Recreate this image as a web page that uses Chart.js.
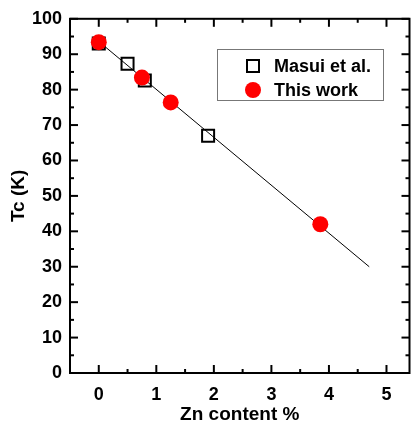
<!DOCTYPE html>
<html>
<head>
<meta charset="utf-8">
<script src="https://cdn.jsdelivr.net/npm/chart.js@4/dist/chart.umd.min.js"></script>
<style>
  html, body { margin: 0; padding: 0; background: #fff; overflow: hidden; }
  #wrap { position: relative; width: 420px; height: 423px; }
  #legend {
    position: absolute; left: 217px; top: 49px; width: 165px; height: 50px;
    border: 1px solid #777; background: #fff;
    font: bold 18px "Liberation Sans", Arial, sans-serif; color: #000;
  }
  #legend .item { position: absolute; left: 0; height: 24px; line-height: 24px; white-space: nowrap; }
  #legend .mark { position: absolute; left: 27px; top: 4px; width: 16px; height: 16px; box-sizing: border-box; }
  #legend .label { position: absolute; left: 56px; top: 0; }
</style>
</head>
<body>
<div id="wrap">
  <canvas id="chart" width="420" height="423"></canvas>
  <div id="legend"></div>
</div>
<script>
// data
const masuiZn = [0, 0.5, 0.8, 1.9];
const masuiTc = [93, 87.3, 82.6, 67];
const thisWorkZn = [0, 0.75, 1.25, 3.85];
const thisWorkTc = [93.4, 83.4, 76.4, 42];
const fitZn = [0, 4.7];
const fitTc = [93.6, 30];

const xTicks = [0, 1, 2, 3, 4, 5];
const yTicks = [0, 10, 20, 30, 40, 50, 60, 70, 80, 90, 100];
const xMinor = [-0.5, 0.5, 1.5, 2.5, 3.5, 4.5];
const yMinor = [5, 15, 25, 35, 45, 55, 65, 75, 85, 95];

const pts = (xs, ys) => xs.map((x, i) => ({ x: x, y: ys[i] }));
const FONT = '"Liberation Sans", Arial, sans-serif';

// frame on all four sides with inward major/minor ticks
const framePlugin = {
  id: 'frame',
  afterDatasetsDraw(chart) {
    const { ctx, chartArea: a, scales } = chart;
    const xs = scales.x, ys = scales.y;
    ctx.save();
    ctx.strokeStyle = '#000';
    ctx.lineWidth = 2;
    ctx.strokeRect(a.left, a.top, a.right - a.left, a.bottom - a.top);
    const tick = (x1, y1, x2, y2) => { ctx.beginPath(); ctx.moveTo(x1, y1); ctx.lineTo(x2, y2); ctx.stroke(); };
    xTicks.forEach(v => {
      const px = xs.getPixelForValue(v);
      tick(px, a.bottom, px, a.bottom - 8);
      tick(px, a.top, px, a.top + 8);
    });
    xMinor.forEach(v => {
      const px = xs.getPixelForValue(v);
      tick(px, a.bottom, px, a.bottom - 4);
      tick(px, a.top, px, a.top + 4);
    });
    yTicks.forEach(v => {
      const py = ys.getPixelForValue(v);
      tick(a.left, py, a.left + 8, py);
      tick(a.right, py, a.right - 8, py);
    });
    yMinor.forEach(v => {
      const py = ys.getPixelForValue(v);
      tick(a.left, py, a.left + 4, py);
      tick(a.right, py, a.right - 4, py);
    });
    ctx.restore();
  }
};

const chart = new Chart(document.getElementById('chart'), {
  type: 'scatter',
  data: {
    datasets: [
      {
        label: 'This work',
        data: pts(thisWorkZn, thisWorkTc),
        pointStyle: 'circle',
        pointRadius: 8,
        pointBackgroundColor: '#ff0000',
        pointBorderColor: '#ff0000',
        pointBorderWidth: 0,
        showLine: false,
        order: 1
      },
      {
        label: 'Masui et al.',
        data: pts(masuiZn, masuiTc),
        pointStyle: 'rect',
        pointRadius: 8.5,
        pointBackgroundColor: 'rgba(0,0,0,0)',
        pointBorderColor: '#000',
        pointBorderWidth: 2,
        showLine: false,
        order: 2
      },
      {
        label: 'fit',
        data: pts(fitZn, fitTc),
        showLine: true,
        borderColor: '#000',
        borderWidth: 1,
        pointRadius: 0,
        order: 3
      }
    ]
  },
  options: {
    responsive: false,
    animation: false,
    layout: { padding: { top: 18, right: 7, left: 0, bottom: 0 } },
    plugins: { legend: { display: false }, tooltip: { enabled: false } },
    scales: {
      x: {
        type: 'linear', min: -0.5, max: 5.4,
        grid: { display: false, drawTicks: false, tickLength: 0 }, border: { display: false },
        afterBuildTicks: s => { s.ticks = xTicks.map(v => ({ value: v })); },
        afterFit: s => { s.height = 50; },
        ticks: { color: '#000', padding: 11, font: { family: FONT, size: 18, weight: 'bold' } },
        title: { display: true, text: 'Zn content %', color: '#000', padding: { top: 0, bottom: -3 },
                 font: { family: FONT, size: 19, weight: 'bold' } }
      },
      y: {
        type: 'linear', min: 0, max: 100,
        grid: { display: false, drawTicks: false, tickLength: 0 }, border: { display: false },
        afterBuildTicks: s => { s.ticks = yTicks.map(v => ({ value: v })); },
        afterFit: s => { s.width = 70; },
        ticks: { color: '#000', padding: 8, font: { family: FONT, size: 18, weight: 'bold' } },
        title: { display: true, text: 'Tc (K)', color: '#000', padding: { top: 7, bottom: 0 },
                 font: { family: FONT, size: 19, weight: 'bold' } }
      }
    }
  },
  plugins: [framePlugin]
});

// HTML legend built from the chart's own datasets
const legendEl = document.getElementById('legend');
[chart.data.datasets[1], chart.data.datasets[0]].forEach((ds, i) => {
  const item = document.createElement('div');
  item.className = 'item';
  item.style.top = (4 + i * 24) + 'px';
  const mark = document.createElement('span');
  mark.className = 'mark';
  if (ds.pointStyle === 'rect') {
    mark.style.border = '2px solid ' + ds.pointBorderColor;
    mark.style.width = '14px'; mark.style.height = '14px';
    mark.style.left = '28px'; mark.style.top = '5px';
  } else {
    mark.style.background = ds.pointBackgroundColor;
    mark.style.borderRadius = '50%';
  }
  const label = document.createElement('span');
  label.className = 'label';
  label.textContent = ds.label;
  item.appendChild(mark);
  item.appendChild(label);
  legendEl.appendChild(item);
});
</script>
</body>
</html>
